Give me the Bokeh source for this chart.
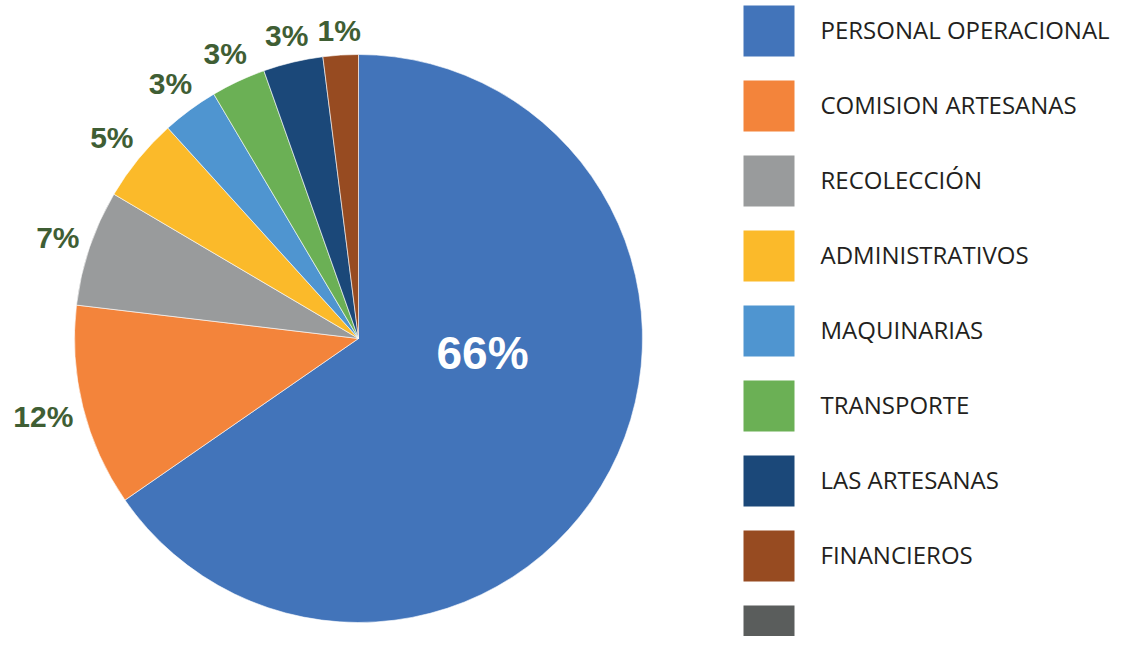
import math
from bokeh.plotting import figure
from bokeh.models import Range1d, ColumnDataSource
from bokeh.core.properties import value
from bokeh.embed import file_html
from bokeh.resources import INLINE

# ---- data ----
categories = ["PERSONAL OPERACIONAL", "COMISION ARTESANAS", "RECOLECCIÓN",
              "ADMINISTRATIVOS", "MAQUINARIAS", "TRANSPORTE", "LAS ARTESANAS",
              "FINANCIEROS", ""]
values = [65.3, 11.5, 6.6, 4.8, 3.2, 3.1, 3.4, 2.0, 0.0]
pct_labels = ["66%", "12%", "7%", "5%", "3%", "3%", "3%", "1%", ""]
colors = ["#4274BA", "#F3843B", "#999B9C", "#FBBA2A", "#4F95D0",
          "#6BB055", "#1B4879", "#974B21", "#5A5D5C"]

W, H = 1113, 636
PAGE_H = 652
def sy(y):  # page y (from top) -> data y
    return PAGE_H - y

p = figure(width=W, height=H, output_backend="svg", toolbar_location=None,
           x_range=Range1d(0, W), y_range=Range1d(PAGE_H - H, PAGE_H),
           min_border=0, outline_line_color=None)
p.xaxis.visible = False
p.yaxis.visible = False
p.xgrid.visible = False
p.ygrid.visible = False

cx, cy, R = 358, sy(338), 284
total = sum(values)
starts, ends, wcol = [], [], []
all_mids = []
acc = 0.0
for v, c in zip(values, colors):
    a0 = math.pi / 2 - 2 * math.pi * (acc + v) / total
    a1 = math.pi / 2 - 2 * math.pi * acc / total
    all_mids.append((a0 + a1) / 2)
    if v > 0:
        starts.append(a0)
        ends.append(a1)
        wcol.append(c)
    acc += v

wsrc = ColumnDataSource(dict(x=[cx] * len(starts), y=[cy] * len(starts),
                             start=starts, end=ends, color=wcol))
p.wedge(x="x", y="y", radius=R, start_angle="start", end_angle="end",
        direction="anticlock", fill_color="color", line_color="white",
        line_width=0.6, source=wsrc)

# outside labels, box placed just outside the arc
FS = 30
def text_w(s):
    return sum((0.889 if ch == "%" else 0.556) for ch in s) * FS
GAP = 8
lx, ly, lt = [], [], []
for i in range(1, len(values)):
    if not pct_labels[i]:
        continue
    ux, uy = math.cos(all_mids[i]), math.sin(all_mids[i])
    d = abs(ux) * text_w(pct_labels[i]) / 2 + abs(uy) * FS / 2
    r = R + GAP + d
    lx.append(cx + r * ux)
    ly.append(cy + r * uy)
    lt.append(pct_labels[i])
p.text(x=lx, y=ly, text=lt, text_font=value("Liberation Sans"),
       text_font_style="bold", text_font_size=f"{FS}px", text_color="#3F5E34",
       text_align="center", text_baseline="middle")

# big inside label
p.text(x=[cx + 124], y=[cy - 14], text=[pct_labels[0]],
       text_font=value("Liberation Sans"), text_font_style="bold",
       text_font_size="46px", text_color="white",
       text_align="center", text_baseline="middle")

# legend
n = len(categories)
sw_x = [768.5] * n
sw_y = [sy(30.5 + 75 * i) for i in range(n)]
p.rect(x=sw_x, y=sw_y, width=51, height=51, fill_color=colors, line_color=None)
p.text(x=[820] * n, y=[sy(29 + 75 * i) for i in range(n)], text=categories,
       text_font=value("Open Sans"), text_font_size="24px", text_color="#231F20",
       text_align="left", text_baseline="middle")

open("out.html", "w").write(file_html(p, INLINE))
